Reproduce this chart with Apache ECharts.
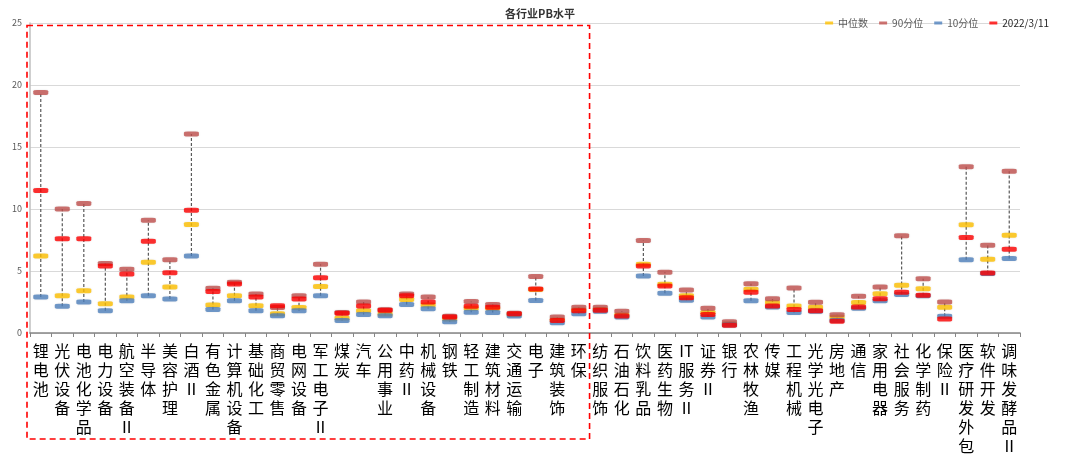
<!DOCTYPE html>
<html>
<head>
<meta charset="utf-8">
<script src="https://cdn.jsdelivr.net/npm/echarts@6/dist/echarts.min.js"></script>
<style>html,body{margin:0;padding:0;background:#fff}#c{width:1080px;height:462px}</style>
</head>
<body>
<div id="c"></div>
<script>
const categories = ['锂电池','光伏设备','电池化学品','电力设备','航空装备Ⅱ','半导体','美容护理','白酒Ⅱ','有色金属','计算机设备','基础化工','商贸零售','电网设备','军工电子Ⅱ','煤炭','汽车','公用事业','中药Ⅱ','机械设备','钢铁','轻工制造','建筑材料','交通运输','电子','建筑装饰','环保','纺织服饰','石油石化','饮料乳品','医药生物','IT服务Ⅱ','证券Ⅱ','银行','农林牧渔','传媒','工程机械','光学光电子','房地产','通信','家用电器','社会服务','化学制药','保险Ⅱ','医疗研发外包','软件开发','调味发酵品Ⅱ'];
const median  = [6.2,3.0,3.4,2.35,2.9,5.7,3.7,8.75,2.25,3.0,2.2,1.55,2.05,3.75,1.2,1.8,1.53,2.7,2.25,1.13,2.0,2.0,1.5,3.5,1.05,1.85,1.9,1.45,5.55,3.93,3.0,1.65,0.72,3.52,2.45,2.18,2.07,1.27,2.45,3.17,3.85,3.57,2.07,8.73,5.94,7.88];
const p90     = [19.4,10.0,10.45,5.6,5.15,9.1,5.9,16.05,3.6,4.1,3.15,2.05,3.0,5.55,1.65,2.5,1.88,3.15,2.9,1.35,2.55,2.3,1.6,4.55,1.3,2.07,2.07,1.75,7.45,4.9,3.47,2.0,0.9,3.98,2.77,3.63,2.47,1.48,2.96,3.7,7.85,4.38,2.5,13.4,7.07,13.05];
const p10     = [2.9,2.15,2.5,1.8,2.6,3.0,2.75,6.2,1.9,2.6,1.8,1.4,1.8,3.0,1.0,1.5,1.4,2.3,1.95,0.9,1.67,1.65,1.37,2.63,0.83,1.55,1.75,1.3,4.6,3.2,2.65,1.3,0.65,2.6,2.1,1.65,1.75,1.0,2.0,2.6,3.1,3.0,1.35,5.9,4.8,6.0];
const current = [11.5,7.6,7.6,5.4,4.75,7.4,4.85,9.9,3.35,3.95,2.9,2.2,2.75,4.45,1.6,2.18,1.83,3.0,2.5,1.3,2.15,2.07,1.55,3.55,1.0,1.8,1.83,1.37,5.4,3.8,2.85,1.5,0.62,3.28,2.18,1.9,1.8,0.95,2.1,2.77,3.28,3.04,1.13,7.7,4.84,6.75];
const yTicks = [0,5,10,15,20,25];
const seriesNames = ['中位数','90分位','10分位','2022/3/11'];
const seriesColors = ['#FFC000','#C0504D','#4F81BD','#FF0000'];
const legendTextColors = ['#595959','#595959','#595959','#262626'];

const chart = echarts.init(document.getElementById('c'));
const FONT = '"Noto Sans CJK SC","Noto Sans",sans-serif';
const markSeries = [median,p90,p10,current].map((arr,k)=>({
  name: seriesNames[k],
  type: 'scatter',
  data: arr,
  symbol: 'roundRect',
  symbolSize: [15,5],
  itemStyle: {color: seriesColors[k], shadowColor:'rgba(0,0,0,0.15)', shadowBlur:2},
  z: 3 + k,
  silent: true
}));

chart.setOption({
  animation: false,
  textStyle: {fontFamily: FONT},
  title: {text:'各行业PB水平', left:'center', top:3,
    textStyle:{fontSize:11, fontWeight:'bold', color:'#333', fontFamily: FONT}},
  legend: {data: seriesNames.map((n,k)=>({name:n, textStyle:{color:legendTextColors[k]}})),
    right: 26, top: 13, icon:'rect', itemWidth:8, itemHeight:3, itemGap:11,
    textStyle:{fontSize:10, color:'#595959', fontFamily: FONT}},
  grid: {left:30, right:60, top:23, bottom:129},
  xAxis: {
    type:'category', data: categories, boundaryGap:true,
    axisLine:{lineStyle:{color:'#868686', width:1.5}},
    axisTick:{show:true, length:4, lineStyle:{color:'#868686'}},
    axisLabel:{interval:0, margin:8, fontSize:16, lineHeight:19, color:'#000', verticalAlign:'top',
      fontFamily: FONT,
      formatter: v => v.replace('IT','\u0000').split('').map(ch => ch === '\u0000' ? 'IT' : ch).join('\n')}
  },
  yAxis: {
    type:'value', min: yTicks[0], max: yTicks[yTicks.length-1], interval: 5,
    axisLine:{show:true, lineStyle:{color:'#BFBFBF', width:1.5}},
    axisTick:{show:false},
    axisLabel:{fontSize:9, color:'#595959', margin:8},
    splitLine:{lineStyle:{color:'#D9D9D9', width:1}}
  },
  series: [{
    type:'custom',
    silent:true,
    z: 2,
    data: categories.map((c,i)=>[i, p10[i], p90[i]]),
    encode:{x:0, y:[1,2]},
    renderItem: (params, api) => {
      const lo = api.coord([api.value(0), api.value(1)]);
      const hi = api.coord([api.value(0), api.value(2)]);
      return {type:'line', shape:{x1:lo[0], y1:lo[1], x2:hi[0], y2:hi[1]},
        style:{stroke:'#595959', lineWidth:1.2, lineDash:[3,2]}};
    }
  }].concat(markSeries)
});

// red dashed annotation box around the first 26 industries
const c25 = chart.convertToPixel({xAxisIndex:0}, 25);
const c26 = chart.convertToPixel({xAxisIndex:0}, 26);
const rightX = (c25 + c26) / 2;
const topY = chart.convertToPixel({yAxisIndex:0}, 24.8);
chart.setOption({graphic:[{
  type:'rect', silent:true, z:10,
  shape:{x:27, y:topY, width:rightX-27, height:439-topY},
  style:{fill:'none', stroke:'#FF0000', lineWidth:1.6, lineDash:[6,4]}
}]});
</script>
</body>
</html>
